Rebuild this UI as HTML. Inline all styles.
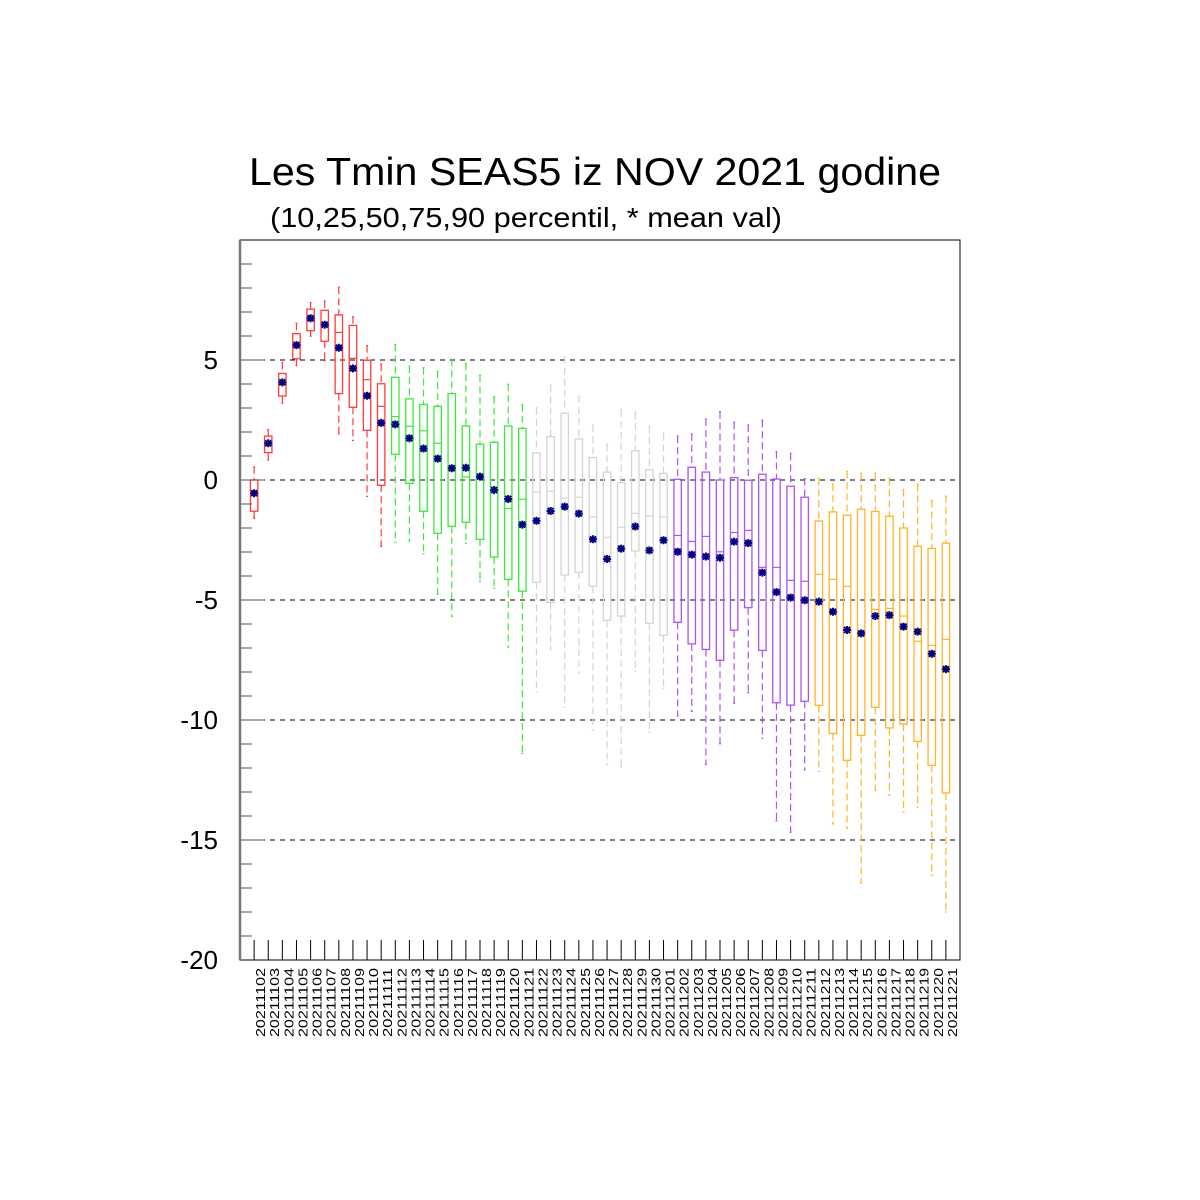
<!DOCTYPE html>
<html><head><meta charset="utf-8"><style>
html,body{margin:0;padding:0;background:#fff;}
svg{display:block;font-family:"Liberation Sans",sans-serif;}
</style></head><body>
<svg id="chart" width="1200" height="1200" viewBox="0 0 1200 1200" xmlns="http://www.w3.org/2000/svg">
<rect x="0" y="0" width="1200" height="1200" fill="#fff"/>
<text x="249" y="185" font-size="39" textLength="692" lengthAdjust="spacingAndGlyphs">Les Tmin SEAS5 iz NOV 2021 godine</text>
<text x="270" y="227" font-size="28" textLength="512" lengthAdjust="spacingAndGlyphs">(10,25,50,75,90 percentil, * mean val)</text>
<g id="grid"></g>
<g id="boxes"></g>
<g id="axes"></g>
</svg>
<script>
const categories = ["20211102","20211103","20211104","20211105","20211106","20211107","20211108","20211109","20211110","20211111","20211112","20211113","20211114","20211115","20211116","20211117","20211118","20211119","20211120","20211121","20211122","20211123","20211124","20211125","20211126","20211127","20211128","20211129","20211130","20211201","20211202","20211203","20211204","20211205","20211206","20211207","20211208","20211209","20211210","20211211","20211212","20211213","20211214","20211215","20211216","20211217","20211218","20211219","20211220","20211221"];
const p10 = [-1.6,0.83,3.2,4.76,5.99,4.97,1.93,1.65,-0.68,-2.76,-2.6,-2.55,-3.08,-4.76,-5.68,-2.64,-4.22,-4.51,-6.96,-11.39,-8.82,-7.07,-9.47,-8.03,-10.43,-11.86,-11.94,-7.97,-10.5,-8.68,-9.83,-9.64,-11.85,-10.99,-9.31,-8.86,-10.76,-14.2,-14.68,-12.08,-12.14,-14.33,-14.51,-16.8,-12.93,-13.14,-13.83,-13.64,-16.47,-18.0];
const p25 = [-1.3,1.14,3.5,5.05,6.22,5.78,3.6,3.03,2.07,-0.22,1.07,-0.14,-1.3,-2.22,-1.93,-1.76,-2.47,-3.21,-4.14,-4.63,-4.26,-5.1,-3.96,-3.85,-4.43,-5.85,-5.67,-2.96,-5.97,-6.47,-5.93,-6.83,-7.06,-7.51,-6.26,-5.32,-7.1,-9.28,-9.38,-9.22,-9.39,-10.56,-11.68,-10.64,-9.47,-10.33,-10.17,-10.89,-11.89,-13.04];
const p50 = [-0.5,1.5,4.0,5.6,6.7,6.5,6.15,5.07,4.18,3.07,2.64,2.24,2.05,1.53,0.4,0.13,0.1,-0.3,-1.19,-0.8,-0.51,-0.47,-0.76,-0.72,-1.54,-2.39,-1.97,-1.39,-1.5,-1.54,-2.31,-2.56,-2.35,-2.99,-2.19,-2.1,-3.64,-3.64,-4.18,-4.22,-3.93,-4.14,-4.43,-6.3,-5.39,-5.35,-5.67,-6.72,-6.89,-6.64];
const p75 = [0,1.83,4.44,6.1,7.12,7.07,6.88,6.44,4.99,4.01,4.28,3.38,3.15,3.07,3.6,2.25,1.49,1.57,2.25,2.15,1.13,1.81,2.78,1.71,0.94,0.33,-0.11,1.22,0.43,0.28,0.03,0.53,0.33,0,0.1,-0.01,0.24,0.04,-0.26,-0.72,-1.71,-1.33,-1.47,-1.22,-1.31,-1.51,-2.0,-2.76,-2.85,-2.63];
const p90 = [0.55,2.1,4.9,6.53,7.39,7.46,8.03,6.8,5.6,4.83,5.65,4.74,4.68,4.53,5.03,4.86,4.36,3.47,3.99,3.14,3.01,3.94,5.14,3.49,2.28,1.49,2.92,2.82,2.25,1.94,1.83,1.92,2.54,2.85,2.4,2.29,2.49,1.18,1.11,0.06,0.07,-0.17,0.36,0.28,0.28,0.07,-0.39,-0.18,-0.85,-0.67];
const means = [-0.55,1.53,4.07,5.62,6.74,6.47,5.51,4.65,3.51,2.38,2.32,1.74,1.31,0.89,0.49,0.51,0.14,-0.42,-0.79,-1.86,-1.7,-1.29,-1.11,-1.4,-2.47,-3.29,-2.86,-1.94,-2.93,-2.51,-2.99,-3.11,-3.19,-3.24,-2.57,-2.63,-3.86,-4.67,-4.9,-5.01,-5.07,-5.49,-6.25,-6.39,-5.67,-5.63,-6.11,-6.32,-7.24,-7.88];
const yTicks = [5,0,-5,-10,-15,-20];
const groupColors = ["#ff3c3c","#3ce83c","#d4d4d4","#b450f0","#ffb428"];

const NS="http://www.w3.org/2000/svg";
const X0=240,X1=960,Y0=240,Y1=960,YMIN=-20,YMAX=10;
const n=categories.length;
const xs=i=>X0+(i+1)*(X1-X0)/(n+1);
const ys=v=>Y1-(v-YMIN)*(Y1-Y0)/(YMAX-YMIN);
function mk(tag,attrs,parent){const e=document.createElementNS(NS,tag);for(const k in attrs)e.setAttribute(k,attrs[k]);parent.appendChild(e);return e;}
const grid=document.getElementById('grid'),boxes=document.getElementById('boxes'),axes=document.getElementById('axes');

yTicks.forEach(t=>{
  if(t<=YMIN)return;
  const l=mk('line',{x1:X0,x2:X1,y1:ys(t),y2:ys(t),stroke:'#000','stroke-width':1,'stroke-dasharray':'5,5'},grid);
  
  
});

categories.forEach((c,i)=>{
  const col=groupColors[Math.min(4,Math.floor(i/10))];
  const g=mk('g',{},boxes);
  
  
  const x=xs(i),hw=3.7;
  const w1=mk('line',{x1:x,x2:x,y1:ys(p90[i]),y2:ys(p75[i]),stroke:col,'stroke-width':1.2,'stroke-dasharray':'7,4'},g);
  
  
  const w2=mk('line',{x1:x,x2:x,y1:ys(p25[i]),y2:ys(p10[i]),stroke:col,'stroke-width':1.2,'stroke-dasharray':'7,4'},g);
  
  
  [p90[i],p10[i]].forEach(v=>{const cap=mk('line',{x1:x-1,x2:x+1,y1:ys(v),y2:ys(v),stroke:col,'stroke-width':1.2},g);
    
    });
  const r=mk('rect',{x:x-hw,y:ys(p75[i]),width:2*hw,height:ys(p25[i])-ys(p75[i]),fill:'none',stroke:col,'stroke-width':1.3},g);
  
  
  const m=mk('line',{x1:x-hw,x2:x+hw,y1:ys(p50[i]),y2:ys(p50[i]),stroke:col,'stroke-width':1.2},g);
  
  
  const my=ys(means[i]);
  const s=mk('path',{d:`M${x-4},${my}H${x+4}M${x},${my-4}V${my+4}M${x-3},${my-3}L${x+3},${my+3}M${x-3},${my+3}L${x+3},${my-3}`,stroke:'#00007f','stroke-width':2},g);
  
  
  const tk=mk('line',{x1:x,x2:x,y1:Y1-20,y2:Y1,stroke:'#000','stroke-width':1},axes);
  
  
  const t=mk('text',{x:0,y:0,'font-size':13,'text-anchor':'end',textLength:69,lengthAdjust:'spacingAndGlyphs',transform:`translate(${x+11},968) rotate(-90)`},axes);
  t.textContent=c;
  
  
});

for(let v=YMIN;v<=YMAX;v++){
  const major=(v%5===0);
  const tk=mk('line',{x1:X0,x2:X0+(major?24:12),y1:ys(v),y2:ys(v),stroke:'#555','stroke-width':1},axes);
  
  
}
yTicks.forEach(t=>{
  const lb=mk('text',{x:218,y:ys(t)+9,'font-size':26,'text-anchor':'end'},axes);
  lb.textContent=String(t);
  
  
});
const fr=mk('rect',{x:X0,y:Y0,width:X1-X0,height:Y1-Y0,fill:'none',stroke:'#000','stroke-width':1},axes);


const la=mk('line',{x1:X0,x2:X0,y1:Y0,y2:Y1,stroke:'#777','stroke-width':2.5},axes);


</script>
</body></html>
